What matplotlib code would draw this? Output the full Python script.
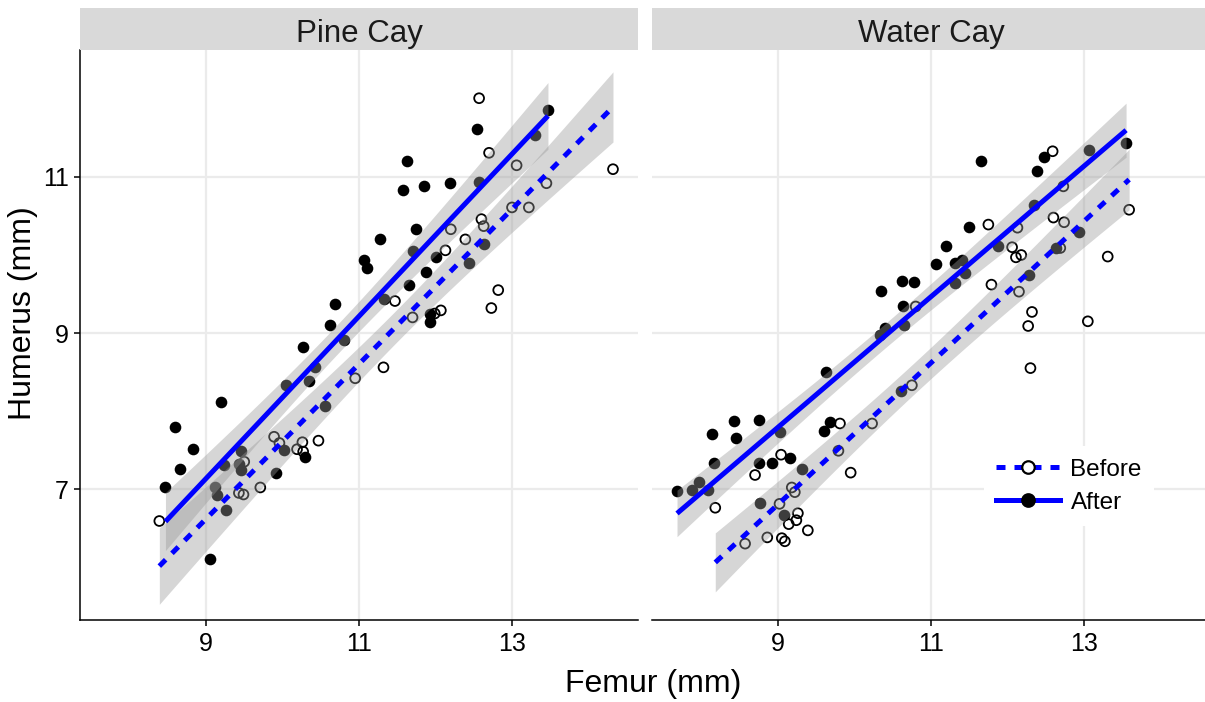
import numpy as np
import matplotlib
matplotlib.use('Agg')
import matplotlib.pyplot as plt
from matplotlib.lines import Line2D

plt.rcParams['font.family'] = ['Liberation Sans', 'DejaVu Sans']

panels = ['Pine Cay', 'Water Cay']
groups = ['Before', 'After']

# Pine Cay
pine_before_femur = [12.57, 12.70, 13.06, 14.32, 13.45, 13.00, 13.22, 12.20, 12.60, 12.63,
                     12.39, 12.13, 11.47, 12.82, 12.73, 11.70, 11.99, 12.07, 10.95, 11.32,
                     9.89, 9.96, 10.26, 10.19, 10.27, 10.47, 9.71, 9.50, 9.43, 9.49, 8.39]
pine_before_humerus = [12.01, 11.31, 11.15, 11.10, 10.92, 10.61, 10.61, 10.33, 10.46, 10.37,
                       10.20, 10.06, 9.41, 9.55, 9.32, 9.20, 9.25, 9.29, 8.42, 8.56,
                       7.67, 7.59, 7.60, 7.51, 7.48, 7.62, 7.02, 7.35, 6.95, 6.93, 6.59]
pine_after_femur = [13.47, 12.54, 13.30, 11.63, 11.58, 11.85, 12.19, 12.57, 11.74, 11.27,
                    11.71, 12.64, 12.44, 12.00, 11.07, 11.10, 11.88, 11.66, 11.33, 11.93,
                    11.93, 10.69, 10.62, 10.27, 10.80, 10.42, 10.34, 10.05, 10.56, 9.19,
                    8.59, 8.83, 8.66, 8.47, 10.02, 10.29, 9.91, 9.46, 9.24, 9.43,
                    9.46, 9.12, 9.14, 9.26, 9.05]
pine_after_humerus = [11.86, 11.62, 11.54, 11.20, 10.83, 10.88, 10.92, 10.94, 10.33, 10.21,
                      10.05, 10.14, 9.90, 9.97, 9.94, 9.83, 9.78, 9.62, 9.43, 9.25,
                      9.14, 9.37, 9.10, 8.82, 8.91, 8.57, 8.38, 8.33, 8.07, 8.12,
                      7.79, 7.51, 7.26, 7.03, 7.50, 7.41, 7.21, 7.49, 7.31, 7.32,
                      7.24, 7.03, 6.92, 6.73, 6.10]

# Water Cay
water_before_femur = [12.59, 12.73, 12.60, 12.74, 13.59, 11.75, 12.13, 12.06, 12.69, 12.18,
                      12.11, 13.31, 11.79, 12.15, 12.32, 12.27, 13.05, 12.30, 10.80, 10.75,
                      10.23, 9.81, 9.04, 8.70, 9.95, 9.79, 8.18, 9.18, 9.22, 9.02,
                      9.26, 9.24, 9.14, 9.39, 8.86, 9.05, 9.09, 8.57]
water_before_humerus = [11.33, 10.88, 10.48, 10.42, 10.58, 10.39, 10.35, 10.10, 10.09, 10.00,
                        9.97, 9.98, 9.62, 9.53, 9.27, 9.09, 9.15, 8.55, 9.34, 8.33,
                        7.84, 7.84, 7.44, 7.18, 7.21, 7.49, 6.76, 7.02, 6.96, 6.81,
                        6.69, 6.60, 6.55, 6.47, 6.38, 6.37, 6.33, 6.30]
water_after_femur = [11.65, 12.48, 13.07, 13.55, 12.38, 12.34, 11.50, 12.93, 11.19, 11.87,
                     12.64, 11.07, 11.31, 11.40, 11.44, 11.32, 12.28, 10.34, 10.62, 10.78,
                     10.63, 10.40, 10.33, 10.65, 9.63, 10.61, 9.68, 9.60, 8.14, 8.42,
                     8.75, 8.45, 9.03, 9.16, 8.75, 8.92, 8.16, 9.32, 7.68, 7.88,
                     7.97, 8.09, 8.77, 9.08]
water_after_humerus = [11.21, 11.25, 11.35, 11.43, 11.08, 10.64, 10.36, 10.29, 10.11, 10.12,
                       10.09, 9.88, 9.90, 9.94, 9.77, 9.64, 9.75, 9.54, 9.67, 9.66,
                       9.34, 9.07, 8.97, 9.10, 8.50, 8.26, 7.86, 7.74, 7.71, 7.87,
                       7.89, 7.66, 7.73, 7.40, 7.34, 7.34, 7.34, 7.26, 6.98, 6.99,
                       7.09, 6.99, 6.82, 6.67]

x_ticks = [9, 11, 13]
y_ticks = [7, 9, 11]

data = {
    'Pine Cay': {'Before': (pine_before_femur, pine_before_humerus),
                 'After': (pine_after_femur, pine_after_humerus)},
    'Water Cay': {'Before': (water_before_femur, water_before_humerus),
                  'After': (water_after_femur, water_after_humerus)},
}

BLUE = '#0000FF'
LW = 3.6
DASH = (0, (1.8, 1.8))
styles = {'Before': dict(ls=DASH, face='none'), 'After': dict(ls='-', face='black')}


def t_quantile(df, z=1.959964):
    return z + (z**3 + z) / (4 * df) + (5 * z**5 + 16 * z**3 + 3 * z) / (96 * df**2)


def smooth(ax, x, y, ls):
    x = np.asarray(x, float)
    y = np.asarray(y, float)
    n = len(x)
    b1, b0 = np.polyfit(x, y, 1)
    xs = np.linspace(x.min(), x.max(), 100)
    yhat = b0 + b1 * xs
    resid = y - (b0 + b1 * x)
    s = np.sqrt(np.sum(resid**2) / (n - 2))
    se = s * np.sqrt(1.0 / n + (xs - x.mean())**2 / np.sum((x - x.mean())**2))
    t = t_quantile(n - 2)
    ax.fill_between(xs, yhat - t * se, yhat + t * se, color='#999999', alpha=0.4,
                    lw=0, zorder=3)
    ax.plot(xs, yhat, color=BLUE, lw=LW, linestyle=ls, zorder=4, solid_capstyle='butt',
            dash_capstyle='butt')


W, H = 1205, 702
fig = plt.figure(figsize=(W / 100, H / 100), dpi=100)

pw = 558
lefts = [80, 652]
bottom_px, top_px = 620, 50
strip_top = 8

xlim = (7.353, 14.647)
ylim = (5.321, 12.628)

axes = []
for i, name in enumerate(panels):
    l = lefts[i]
    ax = fig.add_axes([l / W, (H - bottom_px) / H, pw / W, (bottom_px - top_px) / H])
    axes.append(ax)
    ax.set_xlim(*xlim)
    ax.set_ylim(*ylim)
    ax.set_xticks(x_ticks)
    ax.set_yticks(y_ticks)
    ax.grid(True, color='#EBEBEB', lw=1.6, zorder=0)
    ax.set_axisbelow(True)
    for sp in ['top', 'right']:
        ax.spines[sp].set_visible(False)
    ax.spines['bottom'].set_linewidth(1.1)
    ax.spines['left'].set_linewidth(1.1)
    ax.tick_params(axis='both', length=4, width=1.1, color='black', labelsize=18,
                   labelcolor='black')
    ax.tick_params(axis='x', pad=4.5)
    ax.tick_params(axis='y', pad=4)
    if i > 0:
        ax.spines['left'].set_visible(False)
        ax.tick_params(axis='y', length=0, labelleft=False)

    for g in groups:
        fx, hy = data[name][g]
        st = styles[g]
        ax.scatter(fx, hy, s=50, facecolors=st['face'], edgecolors='black',
                   linewidths=1.3, zorder=2)
    for g in groups:
        fx, hy = data[name][g]
        smooth(ax, fx, hy, styles[g]['ls'])

    # strip
    sax = fig.add_axes([l / W, (H - top_px) / H, pw / W, (top_px - strip_top) / H])
    sax.set_facecolor('#D9D9D9')
    sax.set_xticks([])
    sax.set_yticks([])
    for sp in sax.spines.values():
        sp.set_visible(False)
    sax.text(0.5, (top_px - 42) / (top_px - strip_top), name, ha='center', va='baseline',
             fontsize=22.5, transform=sax.transAxes, color='#1A1A1A')

fig.text(653 / W, 1 - 692 / H, 'Femur (mm)', ha='center', va='baseline', fontsize=23)
fig.text(23 / W, 1 - 313 / H, 'Humerus (mm)', ha='center', va='center', fontsize=23,
         rotation=90)

handles = [
    Line2D([], [], color=BLUE, lw=LW, linestyle=DASH, marker='o', markerfacecolor='white',
           markeredgecolor='black', markersize=9, markeredgewidth=1.6),
    Line2D([], [], color=BLUE, lw=LW, linestyle='-', marker='o', markerfacecolor='black',
           markeredgecolor='black', markersize=9, markeredgewidth=1.6),
]
leg = axes[1].legend(handles, groups, loc='center', bbox_to_anchor=(0.7475, 0.235),
                     frameon=True, facecolor='white', edgecolor='none', framealpha=1,
                     fancybox=False, fontsize=17.5, handlelength=2.6, handletextpad=0.45,
                     labelspacing=0.45, borderpad=0.5, numpoints=1)
leg.set_zorder(10)

fig.savefig('out.png', dpi=100)
